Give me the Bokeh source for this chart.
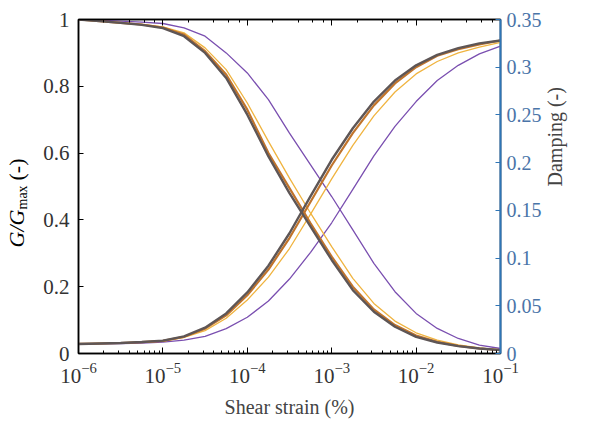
import math
from bokeh.plotting import figure
from bokeh.layouts import row
from bokeh.models import (Range1d, LinearAxis, LogAxis, FixedTicker,
                          CustomJSTickFormatter, Label)
from bokeh.embed import file_html
from bokeh.resources import INLINE

# shear strain (%) sample points
strain = [1e-6, 1.78e-6, 3.16e-6, 5.62e-6, 1e-5, 1.78e-5, 3.16e-5, 5.62e-5,
          1e-4, 1.78e-4, 3.16e-4, 5.62e-4, 1e-3, 1.78e-3, 3.16e-3, 5.62e-3,
          1e-2, 1.78e-2, 3.16e-2, 5.62e-2, 1e-1]

# G/Gmax curves
g_grey = [1.0, 0.995, 0.99, 0.984, 0.974, 0.95, 0.90, 0.825, 0.715, 0.59, 0.48,
          0.38, 0.28, 0.19, 0.125, 0.08, 0.05, 0.033, 0.022, 0.015, 0.01]
g_orange = [1.0, 0.995, 0.99, 0.985, 0.976, 0.955, 0.905, 0.835, 0.73, 0.60, 0.495,
            0.39, 0.29, 0.20, 0.132, 0.085, 0.054, 0.035, 0.023, 0.015, 0.01]
g_yellow = [1.0, 0.995, 0.99, 0.985, 0.978, 0.96, 0.915, 0.85, 0.75, 0.635, 0.525,
            0.42, 0.32, 0.225, 0.15, 0.097, 0.062, 0.04, 0.026, 0.017, 0.011]
g_purple = [1.0, 0.998, 0.995, 0.992, 0.988, 0.975, 0.95, 0.90, 0.84, 0.76, 0.66,
            0.565, 0.47, 0.37, 0.27, 0.185, 0.12, 0.075, 0.045, 0.025, 0.015]

# damping curves
d_grey = [0.010, 0.0105, 0.011, 0.012, 0.0135, 0.018, 0.027, 0.042, 0.064, 0.092,
          0.126, 0.165, 0.203, 0.236, 0.264, 0.286, 0.302, 0.313, 0.320, 0.325, 0.328]
d_orange = [0.010, 0.0105, 0.011, 0.012, 0.0133, 0.0175, 0.026, 0.040, 0.061, 0.088,
            0.121, 0.159, 0.197, 0.231, 0.260, 0.283, 0.300, 0.312, 0.319, 0.324, 0.328]
d_yellow = [0.010, 0.0105, 0.011, 0.012, 0.013, 0.017, 0.024, 0.037, 0.056, 0.080,
            0.110, 0.146, 0.183, 0.218, 0.249, 0.274, 0.293, 0.306, 0.315, 0.321, 0.326]
d_purple = [0.010, 0.010, 0.0105, 0.011, 0.012, 0.014, 0.018, 0.026, 0.038, 0.055,
            0.078, 0.106, 0.137, 0.172, 0.207, 0.238, 0.264, 0.286, 0.302, 0.314, 0.322]

g_ticks = [0, 0.2, 0.4, 0.6, 0.8, 1.0]
d_ticks = [0, 0.05, 0.1, 0.15, 0.2, 0.25, 0.3, 0.35]

FONT = "Liberation Serif"
BLUE = "#2e75b6"
TOTAL_W = 579
TITLE_W = 30
H = 420

p = figure(width=TOTAL_W - TITLE_W, height=H, x_axis_type="log",
           x_range=Range1d(1e-6, 1e-1), y_range=Range1d(0, 1),
           output_backend="svg", toolbar_location=None,
           min_border_left=78 - TITLE_W, min_border_right=70,
           min_border_top=19, min_border_bottom=63)
p.extra_y_ranges = {"damp": Range1d(0, 0.35)}
p.xgrid.visible = False
p.ygrid.visible = False
p.outline_line_color = "black"
p.outline_line_width = 1.5
p.background_fill_color = "white"
p.border_fill_color = "white"

colors = {"purple": "#7a4fb0", "yellow": "#f0b440", "orange": "#c0742c", "grey": "#5e5656"}
widths = {"purple": 1.3, "yellow": 1.3, "orange": 2.2, "grey": 2.4}
for name, g, d in [("purple", g_purple, d_purple), ("yellow", g_yellow, d_yellow),
                   ("orange", g_orange, d_orange), ("grey", g_grey, d_grey)]:
    p.line(strain, g, line_color=colors[name], line_width=widths[name])
    p.line(strain, d, line_color=colors[name], line_width=widths[name], y_range_name="damp")

# bottom axis
xa = p.xaxis[0]
xa.major_tick_in = 6
xa.major_tick_out = 0
xa.minor_tick_in = 3
xa.minor_tick_out = 0
xa.axis_line_width = 1.5
xa.major_label_text_font = FONT
xa.major_label_text_font_size = "21px"
xa.major_label_text_color = "#333333"
xa.major_label_standoff = 9
xa.axis_label = "Shear strain (%)"
xa.axis_label_text_font = FONT
xa.axis_label_text_font_style = "normal"
xa.axis_label_text_font_size = "20px"
xa.axis_label_standoff = 10

# top axis (ticks only)
top = LogAxis(major_tick_in=6, major_tick_out=0, minor_tick_in=3, minor_tick_out=0,
              axis_line_width=1.5,
              formatter=CustomJSTickFormatter(code="return ''"),
              major_label_text_font_size="0px")
p.add_layout(top, "above")

# left axis
ya = p.yaxis[0]
ya.ticker = FixedTicker(ticks=g_ticks)
ya.formatter = CustomJSTickFormatter(
    code="return tick.toFixed(1).replace(/0+$/,'').replace(/\\.$/,'')")
ya.major_tick_in = 5
ya.major_tick_out = 0
ya.minor_tick_in = 0
ya.minor_tick_out = 0
ya.axis_line_width = 1.5
ya.major_label_text_font = FONT
ya.major_label_text_font_size = "21px"
ya.major_label_text_color = "#333333"
ya.major_label_standoff = 9

# right axis
ra = LinearAxis(y_range_name="damp", ticker=FixedTicker(ticks=d_ticks),
                formatter=CustomJSTickFormatter(
                    code="return tick.toFixed(2).replace(/0+$/,'').replace(/\\.$/,'')"),
                axis_line_color=BLUE, axis_line_width=2,
                major_tick_line_color=BLUE, major_tick_in=5, major_tick_out=0,
                minor_tick_in=0, minor_tick_out=0,
                major_label_text_font=FONT, major_label_text_font_size="20px",
                major_label_text_color="#4a74a8", major_label_standoff=6,
                axis_label="Damping (-)", axis_label_text_font=FONT,
                axis_label_text_font_style="normal", axis_label_text_font_size="20px",
                axis_label_orientation=math.pi / 2, axis_label_standoff=10)
p.add_layout(ra, "right")

# narrow side panel holding the left title: italic G, subscript "max"
t = figure(width=TITLE_W, height=H, x_range=Range1d(0, TITLE_W), y_range=Range1d(0, H),
           output_backend="svg", toolbar_location=None,
           x_axis_location=None, y_axis_location=None,
           min_border_left=0, min_border_right=0, min_border_top=0, min_border_bottom=0)
t.outline_line_color = None
t.xgrid.visible = False
t.ygrid.visible = False
t.background_fill_color = "white"
t.border_fill_color = "white"
common = dict(x_units="screen", y_units="screen", angle=math.pi / 2,
              text_font=FONT, text_align="left", text_baseline="middle",
              text_color="black")
t.add_layout(Label(x=16, y=106, text="G/G", text_font_style="italic",
                   text_font_size="22px", **common))
t.add_layout(Label(x=22, y=144, text="max", text_font_size="14px", **common))
t.add_layout(Label(x=16, y=173, text="(-)", text_font_size="22px", **common))

layout = row(t, p, spacing=0)
open("out.html", "w").write(file_html(layout, INLINE))
